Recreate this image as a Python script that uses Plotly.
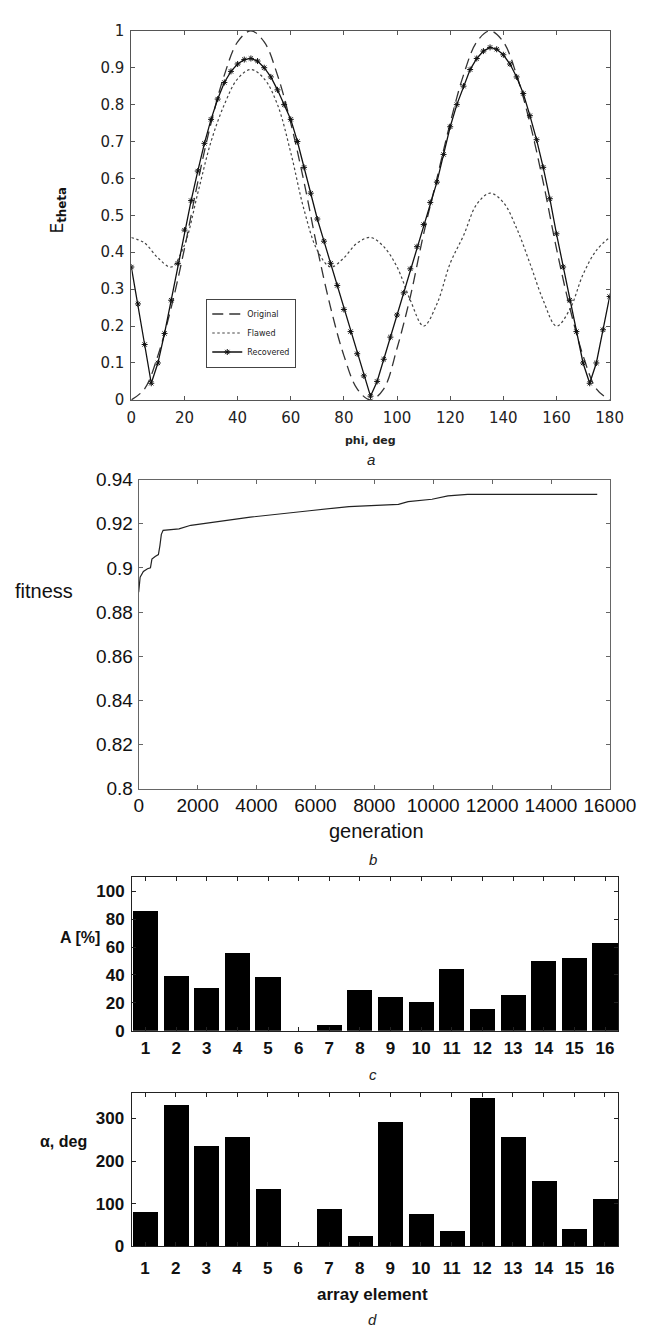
import plotly.graph_objects as go

W, H = 646, 1331

# ---------------- data ----------------
# panel a
phi_5 = list(range(0, 181, 5))
original = [0.0, 0.03, 0.12, 0.25, 0.41, 0.59, 0.75, 0.88, 0.97, 1.0,
            0.97, 0.88, 0.75, 0.59, 0.41, 0.25, 0.12, 0.03, 0.0,
            0.03, 0.14, 0.28, 0.45, 0.60, 0.75, 0.88, 0.97, 1.0,
            0.97, 0.88, 0.75, 0.59, 0.41, 0.25, 0.12, 0.03, 0.0]
flawed = [0.44, 0.425, 0.385, 0.36, 0.42, 0.56, 0.70, 0.80, 0.87, 0.895,
          0.87, 0.80, 0.67, 0.515, 0.405, 0.36, 0.385, 0.425, 0.44,
          0.415, 0.36, 0.27, 0.20, 0.26, 0.37, 0.445, 0.53, 0.56,
          0.535, 0.465, 0.37, 0.27, 0.20, 0.245, 0.34, 0.405, 0.44]
phi_rec = [i * 2.5 for i in range(73)]
recovered = [0.36, 0.26, 0.15, 0.045, 0.10, 0.18, 0.27, 0.37, 0.46, 0.54,
             0.62, 0.695, 0.76, 0.815, 0.86, 0.89, 0.91, 0.922, 0.925, 0.918,
             0.90, 0.875, 0.84, 0.80, 0.76, 0.70, 0.63, 0.56, 0.49, 0.43,
             0.37, 0.31, 0.245, 0.185, 0.125, 0.065, 0.01, 0.05, 0.11, 0.17,
             0.23, 0.29, 0.355, 0.415, 0.475, 0.535, 0.59, 0.665, 0.74, 0.80,
             0.85, 0.895, 0.925, 0.945, 0.955, 0.95, 0.935, 0.91, 0.875, 0.83,
             0.77, 0.705, 0.63, 0.545, 0.45, 0.36, 0.27, 0.185, 0.10, 0.045,
             0.10, 0.19, 0.28]
a_xticks = list(range(0, 181, 20))
a_yticks = [0, 0.1, 0.2, 0.3, 0.4, 0.5, 0.6, 0.7, 0.8, 0.9, 1]
a_yticktext = ["0", "0.1", "0.2", "0.3", "0.4", "0.5", "0.6", "0.7", "0.8", "0.9", "1"]

# panel b
generation = [0, 50, 160, 300, 400, 450, 560, 670, 720, 770, 830, 1370, 1770,
              2440, 3790, 5800, 7140, 8820, 9150, 9960, 10500, 11170, 15570]
fitness = [0.889, 0.8958, 0.8984, 0.8996, 0.900, 0.904, 0.9052, 0.906, 0.910,
           0.9152, 0.917, 0.9177, 0.9193, 0.9206, 0.923, 0.9259, 0.9278,
           0.9288, 0.930, 0.9311, 0.9326, 0.9333, 0.9333]
b_xticks = [0, 2000, 4000, 6000, 8000, 10000, 12000, 14000, 16000]
b_xticktext = ["0", "2000", "4000", "6000", "8000", "10000", "12000", "14000", "16000"]
b_yticks = [0.8, 0.82, 0.84, 0.86, 0.88, 0.9, 0.92, 0.94]
b_yticktext = ["0.8", "0.82", "0.84", "0.86", "0.88", "0.9", "0.92", "0.94"]

# panels c, d
elements = list(range(1, 17))
amplitude = [85.7, 39.4, 30.5, 55.9, 38.7, 0.0, 4.2, 29.1, 23.7, 20.7, 44.1,
             15.3, 25.4, 50.0, 52.1, 62.7]
phase = [80.6, 332, 236, 258, 134, 0.0, 89, 24, 292, 77, 37, 348, 258, 153, 41, 111]
c_yticks = [0, 20, 40, 60, 80, 100]
d_yticks = [0, 100, 200, 300]


# ---------------- helpers ----------------
def px_x(x):
    return x / W


def px_y(y):
    return 1 - y / H


fig = go.Figure()

fig.add_trace(go.Scatter(x=phi_5, y=original, name="Original", mode="lines",
                         line=dict(color="#333", width=1.3, dash="11px,6px", shape="spline"),
                         xaxis="x", yaxis="y"))
fig.add_trace(go.Scatter(x=phi_5, y=flawed, name="Flawed", mode="lines",
                         line=dict(color="#444", width=1.2, dash="2.5px,2.5px", shape="spline"),
                         xaxis="x", yaxis="y"))
fig.add_trace(go.Scatter(x=phi_rec, y=recovered, name="Recovered", mode="lines+markers",
                         line=dict(color="#111", width=1.3),
                         marker=dict(symbol="asterisk", size=5, color="#111",
                                     line=dict(color="#111", width=1)),
                         xaxis="x", yaxis="y"))

fig.add_trace(go.Scatter(x=generation, y=fitness, mode="lines", showlegend=False,
                         line=dict(color="#222", width=1.2), xaxis="x2", yaxis="y2"))

fig.add_trace(go.Bar(x=elements, y=amplitude, width=0.82, marker=dict(color="black", line=dict(width=0)),
                     showlegend=False, xaxis="x3", yaxis="y3"))
fig.add_trace(go.Bar(x=elements, y=phase, width=0.82, marker=dict(color="black", line=dict(width=0)),
                     showlegend=False, xaxis="x4", yaxis="y4"))

axis_common = dict(showgrid=False, zeroline=False, showline=True, mirror="ticks",
                   ticks="inside", ticklen=4, tickwidth=1)

dv = dict(family="DejaVu Sans", size=15, color="#222")
ls = dict(family="Liberation Sans", size=19, color="#111")
lb = dict(family="Liberation Sans", size=17, color="#111", weight="bold")

fig.update_layout(
    width=W, height=H, margin=dict(l=0, r=0, t=0, b=0),
    paper_bgcolor="white", plot_bgcolor="white",
    font=dict(family="Liberation Sans", color="#111"),
    bargap=0,
    xaxis=dict(axis_common, domain=[px_x(124.3), px_x(626.7)], range=[0, 180],
               tickvals=a_xticks, tickfont=dv, linecolor="#555", tickcolor="#555",
               ticklabelstandoff=4, anchor="y"),
    yaxis=dict(axis_common, domain=[px_y(388), px_y(13)], range=[0, 1],
               tickvals=a_yticks, ticktext=a_yticktext, tickfont=dv,
               linecolor="#555", tickcolor="#555", ticklabelstandoff=3, anchor="x"),
    xaxis2=dict(axis_common, domain=[px_x(132), px_x(627)], range=[0, 16000],
                tickvals=b_xticks, ticktext=b_xticktext, tickfont=ls,
                linecolor="#666", tickcolor="#666", ticklabelstandoff=0, anchor="y2"),
    yaxis2=dict(axis_common, domain=[px_y(783), px_y(469)], range=[0.8, 0.94],
                tickvals=b_yticks, ticktext=b_yticktext, tickfont=ls,
                linecolor="#666", tickcolor="#666", ticklabelstandoff=1, anchor="x2"),
    xaxis3=dict(axis_common, domain=[px_x(125), px_x(636)], range=[0.56, 16.44],
                tickvals=elements, tickfont=lb, linecolor="#222", tickcolor="#222",
                ticklabelstandoff=2, anchor="y3"),
    yaxis3=dict(axis_common, domain=[px_y(1029), px_y(873)], range=[0, 110],
                tickvals=c_yticks, tickfont=lb, linecolor="#222", tickcolor="#222",
                ticklabelstandoff=3, anchor="x3"),
    xaxis4=dict(axis_common, domain=[px_x(124.5), px_x(636)], range=[0.56, 16.44],
                tickvals=elements, tickfont=lb, linecolor="#222", tickcolor="#222",
                ticklabelstandoff=6, anchor="y4"),
    yaxis4=dict(axis_common, domain=[px_y(1248), px_y(1092)], range=[0, 360],
                tickvals=d_yticks, tickfont=lb, linecolor="#222", tickcolor="#222",
                ticklabelstandoff=3, anchor="x4"),
    legend=dict(x=px_x(203), y=px_y(285), xanchor="left", yanchor="top",
                bgcolor="white", bordercolor="#444", borderwidth=1,
                font=dict(family="DejaVu Sans", size=8, color="#222"),
                tracegroupgap=0, itemwidth=30),
)

ann = [
    dict(x=px_x(48), y=px_y(195), text="E<sub><b>theta</b></sub>", textangle=-90,
         font=dict(family="DejaVu Sans", size=17, color="#111")),
    dict(x=px_x(376), y=px_y(429), text="<b>phi, deg</b>",
         font=dict(family="DejaVu Sans", size=11, color="#222")),
    dict(x=px_x(376), y=px_y(449), text="<i>a</i>",
         font=dict(family="Liberation Sans", size=15, color="#222")),
    dict(x=px_x(33), y=px_y(582), text="fitness",
         font=dict(family="Liberation Sans", size=20, color="#111")),
    dict(x=px_x(382), y=px_y(826), text="generation",
         font=dict(family="Liberation Sans", size=20, color="#111")),
    dict(x=px_x(378), y=px_y(855), text="<i>b</i>",
         font=dict(family="Liberation Sans", size=15, color="#222")),
    dict(x=px_x(70), y=px_y(934), text="<b>A [%]</b>",
         font=dict(family="Liberation Sans", size=16, color="#111")),
    dict(x=px_x(378), y=px_y(1073), text="<i>c</i>",
         font=dict(family="Liberation Sans", size=15, color="#222")),
    dict(x=px_x(53), y=px_y(1142), text="<b>α, deg</b>",
         font=dict(family="Liberation Sans", size=16, color="#111")),
    dict(x=px_x(378), y=px_y(1297), text="<b>array element</b>",
         font=dict(family="Liberation Sans", size=17, color="#111")),
    dict(x=px_x(378), y=px_y(1322), text="<i>d</i>",
         font=dict(family="Liberation Sans", size=15, color="#222")),
]
for a in ann:
    a.update(xref="paper", yref="paper", showarrow=False, xanchor="center", yanchor="middle")
fig.update_layout(annotations=ann)

fig.write_html("out.html")
